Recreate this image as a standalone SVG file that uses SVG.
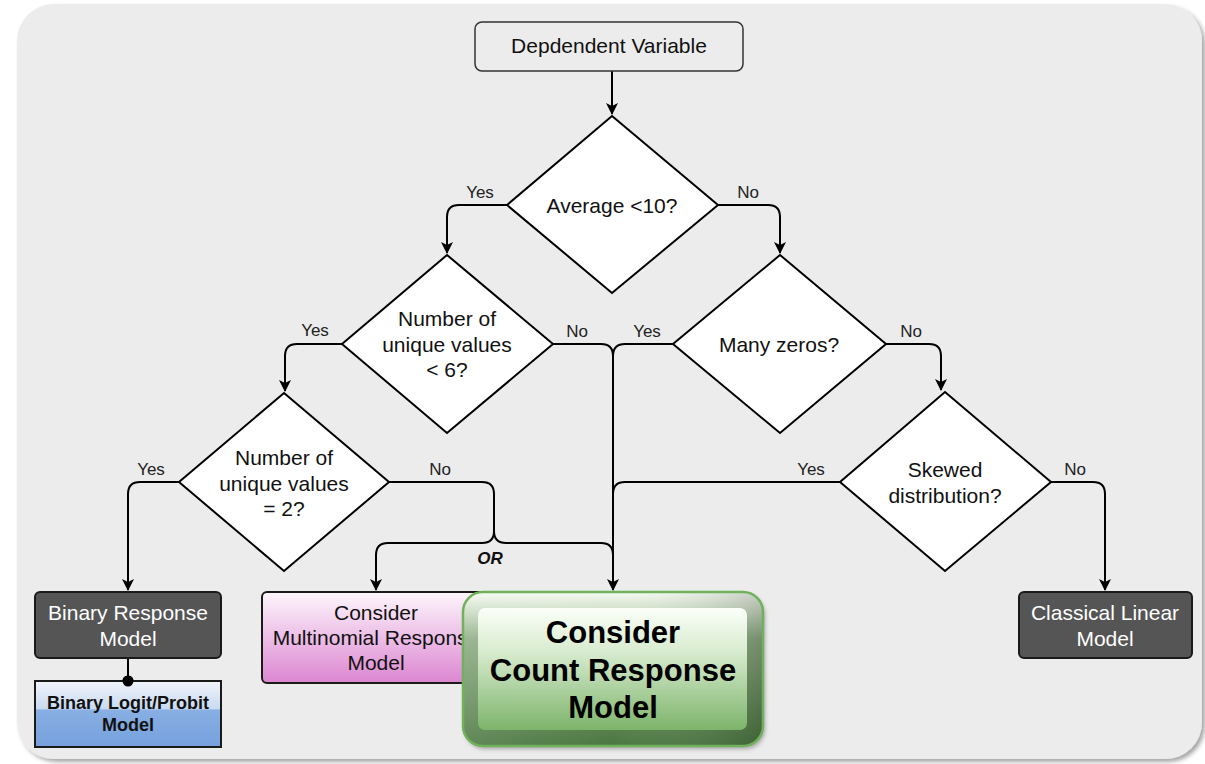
<svg xmlns="http://www.w3.org/2000/svg" width="1205" height="764" viewBox="0 0 1205 764">
  <defs>
    <filter id="bgShadow" x="-5%" y="-5%" width="110%" height="110%">
      <feDropShadow dx="3" dy="3" stdDeviation="2" flood-color="#000" flood-opacity="0.35"/>
    </filter>
    <filter id="boxShadow" x="-10%" y="-10%" width="125%" height="125%">
      <feDropShadow dx="2" dy="3" stdDeviation="2" flood-color="#000" flood-opacity="0.3"/>
    </filter>
    <marker id="arrow" viewBox="0 0 12 12" refX="11" refY="6" markerWidth="12" markerHeight="12" markerUnits="userSpaceOnUse" orient="auto">
      <path d="M0,0 L12,6 L0,12 L3,6 Z" fill="#000"/>
    </marker>
    <linearGradient id="pinkGrad" x1="0" y1="0" x2="0" y2="1">
      <stop offset="0" stop-color="#fdf6fc"/>
      <stop offset="1" stop-color="#dc86d1"/>
    </linearGradient>
    <linearGradient id="blueGrad" x1="0" y1="0" x2="0" y2="1">
      <stop offset="0" stop-color="#f1f5fb"/>
      <stop offset="0.42" stop-color="#c9daf1"/>
      <stop offset="0.44" stop-color="#89afe3"/>
      <stop offset="1" stop-color="#75a1dd"/>
    </linearGradient>
    <linearGradient id="bevelV" x1="0" y1="0" x2="0" y2="1">
      <stop offset="0" stop-color="#f6fbf2"/>
      <stop offset="0.12" stop-color="#cfdfc8"/>
      <stop offset="0.3" stop-color="#8fae85"/>
      <stop offset="1" stop-color="#4b7740"/>
    </linearGradient>
    <linearGradient id="bevelH" x1="0" y1="0" x2="1" y2="0">
      <stop offset="0" stop-color="#fff" stop-opacity="0.12"/>
      <stop offset="0.5" stop-color="#fff" stop-opacity="0"/>
      <stop offset="1" stop-color="#000" stop-opacity="0.18"/>
    </linearGradient>
    <linearGradient id="faceGrad" x1="0" y1="0" x2="0" y2="1">
      <stop offset="0" stop-color="#fbfff8"/>
      <stop offset="0.35" stop-color="#d9ecd0"/>
      <stop offset="1" stop-color="#7db46b"/>
    </linearGradient>
    <style>
      .lbl { font-family: "Liberation Sans", Arial, sans-serif; font-size: 17px; fill: #222; text-anchor: middle; }
      .txt { font-family: "Liberation Sans", Arial, sans-serif; font-size: 21px; fill: #111; text-anchor: middle; }
      .wtxt { font-family: "Liberation Sans", Arial, sans-serif; font-size: 21px; fill: #fff; text-anchor: middle; }
      .btxt { font-family: "Liberation Sans", Arial, sans-serif; font-size: 18px; font-weight: bold; fill: #111; text-anchor: middle; }
      .big { font-family: "Liberation Sans", Arial, sans-serif; font-size: 31px; font-weight: bold; fill: #000; text-anchor: middle; }
      .or { font-family: "Liberation Sans", Arial, sans-serif; font-size: 17px; font-weight: bold; font-style: italic; fill: #111; text-anchor: middle; }
      .dia { fill: #fff; stroke: #000; stroke-width: 2; }
      .dark { fill: #555; stroke: #1a1a1a; stroke-width: 2; }
      .edge { fill: none; stroke: #000; stroke-width: 2; }
    </style>
  </defs>

  <!-- panel -->
  <rect x="17" y="4" width="1185" height="755" rx="37" fill="#ececec" filter="url(#bgShadow)"/>

  <!-- connectors -->
  <g id="connectors">
    <path class="edge" d="M612,71 V114" marker-end="url(#arrow)"/>
    <path class="edge" d="M507,205 H459 Q447,205 447,217 V253" marker-end="url(#arrow)"/>
    <path class="edge" d="M718,205 H768 Q780,205 780,217 V253" marker-end="url(#arrow)"/>
    <path class="edge" d="M342,344 H297 Q285,344 285,356 V391" marker-end="url(#arrow)"/>
    <path class="edge" d="M553,344 H601 Q613,344 613,356 V590" marker-end="url(#arrow)"/>
    <path class="edge" d="M673,344 H625 Q613,344 613,356"/>
    <path class="edge" d="M886,344 H929 Q941,344 941,356 V390" marker-end="url(#arrow)"/>
    <path class="edge" d="M179,482 H140 Q128,482 128,494 V590" marker-end="url(#arrow)"/>
    <path class="edge" d="M389,482 H482 Q494,482 494,494 V531 Q494,543 482,543 H388 Q376,543 376,555 V590" marker-end="url(#arrow)"/>
    <path class="edge" d="M494,531 Q494,543 506,543 H601 Q613,543 613,555"/>
    <path class="edge" d="M840,482 H625 Q613,482 613,494"/>
    <path class="edge" d="M1051,482 H1093 Q1105,482 1105,494 V590" marker-end="url(#arrow)"/>
    <path class="edge" d="M128,658 V681"/>
    <circle cx="128" cy="681" r="5.5" fill="#000"/>

    <text class="lbl" x="480" y="198">Yes</text>
    <text class="lbl" x="748" y="198">No</text>
    <text class="lbl" x="315" y="336">Yes</text>
    <text class="lbl" x="577" y="337">No</text>
    <text class="lbl" x="647" y="337">Yes</text>
    <text class="lbl" x="911" y="337">No</text>
    <text class="lbl" x="151" y="475">Yes</text>
    <text class="lbl" x="440" y="475">No</text>
    <text class="lbl" x="811" y="475">Yes</text>
    <text class="lbl" x="1075" y="475">No</text>
    <text class="or" x="490" y="564">OR</text>
  </g>

  <!-- start node -->
  <g id="dependent-variable">
    <rect x="475" y="22" width="268" height="49" rx="7" fill="#ececec" stroke="#333" stroke-width="1.5"/>
    <text class="txt" x="609" y="53">Depdendent Variable</text>
  </g>

  <!-- decisions -->
  <g id="average-lt-10">
    <polygon class="dia" points="612,116 718,205 612,293 507,205"/>
    <text class="txt" x="612" y="213">Average &lt;10?</text>
  </g>
  <g id="unique-lt-6">
    <polygon class="dia" points="447,255 553,344 447,433 342,344"/>
    <text class="txt" x="447" y="326">Number of</text>
    <text class="txt" x="447" y="352">unique values</text>
    <text class="txt" x="447" y="377">&lt; 6?</text>
  </g>
  <g id="many-zeros">
    <polygon class="dia" points="780,255 886,344 780,433 673,344"/>
    <text class="txt" x="779" y="352">Many zeros?</text>
  </g>
  <g id="unique-eq-2">
    <polygon class="dia" points="284,393 389,482 284,571 179,482"/>
    <text class="txt" x="284" y="465">Number of</text>
    <text class="txt" x="284" y="491">unique values</text>
    <text class="txt" x="284" y="516">= 2?</text>
  </g>
  <g id="skewed">
    <polygon class="dia" points="945,392 1051,482 945,571 840,482"/>
    <text class="txt" x="945" y="477">Skewed</text>
    <text class="txt" x="945" y="503">distribution?</text>
  </g>

  <!-- outcomes -->
  <g id="binary-response">
    <rect class="dark" x="35" y="592" width="186" height="66" rx="5"/>
    <text class="wtxt" x="128" y="620">Binary Response</text>
    <text class="wtxt" x="128" y="646">Model</text>
  </g>
  <g id="binary-logit-probit">
    <rect x="35" y="681" width="186" height="66" fill="url(#blueGrad)" stroke="#1a1a1a" stroke-width="2"/>
    <text class="btxt" x="128" y="709">Binary Logit/Probit</text>
    <text class="btxt" x="128" y="731">Model</text>
    <circle cx="128" cy="681" r="5.5" fill="#000"/>
  </g>
  <g id="multinomial">
    <rect x="262" y="592" width="228" height="91" rx="5" fill="url(#pinkGrad)" stroke="#1a1a1a" stroke-width="2"/>
    <text class="txt" x="376" y="620">Consider</text>
    <text class="txt" x="376" y="645">Multinomial Response</text>
    <text class="txt" x="376" y="670">Model</text>
  </g>
  <g id="count-response">
    <rect x="463" y="592" width="300" height="154" rx="20" fill="url(#bevelV)" filter="url(#boxShadow)"/>
    <rect x="463" y="592" width="300" height="154" rx="20" fill="url(#bevelH)" stroke="#6fb25b" stroke-width="2.5"/>
    <rect x="478" y="608" width="269" height="122" rx="7" fill="url(#faceGrad)"/>
    <text class="big" x="613" y="643">Consider</text>
    <text class="big" x="613" y="681">Count Response</text>
    <text class="big" x="613" y="718">Model</text>
  </g>
  <g id="classical-linear">
    <rect class="dark" x="1019" y="592" width="173" height="66" rx="5"/>
    <text class="wtxt" x="1105" y="620">Classical Linear</text>
    <text class="wtxt" x="1105" y="646">Model</text>
  </g>
</svg>
